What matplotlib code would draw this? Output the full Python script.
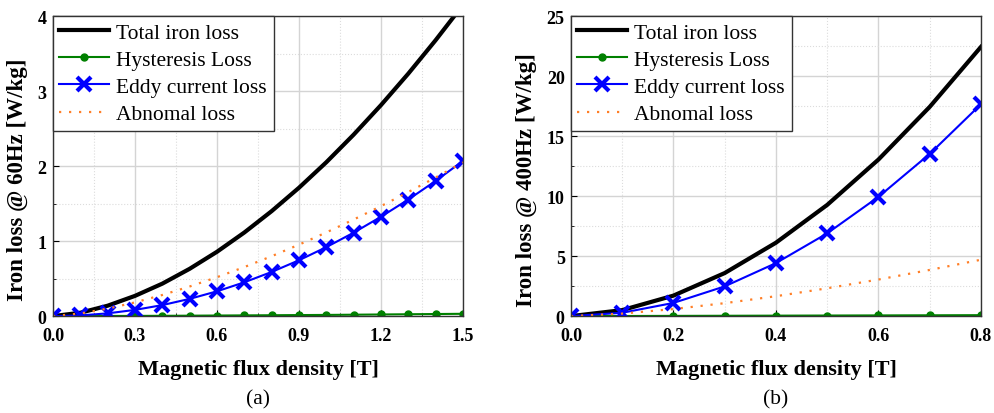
import numpy as np
import matplotlib
matplotlib.use("Agg")
import matplotlib.pyplot as plt
from matplotlib.ticker import MultipleLocator, FormatStrFormatter

plt.rcParams['font.family'] = ['Liberation Serif', 'DejaVu Serif']

# 60 Hz data
b60 = [0.0, 0.1, 0.2, 0.3, 0.4, 0.5, 0.6, 0.7, 0.8, 0.9, 1.0, 1.1, 1.2, 1.3, 1.4, 1.5]
total60 = [0, 0.045, 0.139, 0.270, 0.433, 0.631, 0.858, 1.115, 1.400, 1.712, 2.052,
           2.420, 2.814, 3.234, 3.680, 4.151]
hyst60 = [0, 0.001, 0.002, 0.003, 0.004, 0.006, 0.008, 0.010, 0.012, 0.014, 0.016,
          0.019, 0.022, 0.025, 0.028, 0.031]
eddy60 = [0, 0.009, 0.037, 0.083, 0.147, 0.23, 0.331, 0.451, 0.589, 0.745, 0.92,
          1.113, 1.325, 1.555, 1.803, 2.07]
abn60 = [0, 0.035, 0.100, 0.183, 0.282, 0.395, 0.519, 0.654, 0.799, 0.953, 1.116,
         1.288, 1.467, 1.654, 1.849, 2.050]

# 400 Hz data
b400 = [0.0, 0.1, 0.2, 0.3, 0.4, 0.5, 0.6, 0.7, 0.8]
total400 = [0, 0.50, 1.71, 3.59, 6.12, 9.27, 13.05, 17.44, 22.44]
hyst400 = [0, 0.01, 0.02, 0.03, 0.04, 0.05, 0.06, 0.07, 0.08]
eddy400 = [0, 0.28, 1.10, 2.48, 4.42, 6.90, 9.94, 13.52, 17.66]
abn400 = [0, 0.21, 0.59, 1.08, 1.66, 2.32, 3.05, 3.85, 4.70]

fig = plt.figure(figsize=(9.94, 4.14), dpi=100)
ax1 = fig.add_axes([0.0533, 0.234, 0.4125, 0.7246])
ax2 = fig.add_axes([0.5744, 0.234, 0.4125, 0.7246])


def draw(ax, b, tot, hys, edd, abn, xmax, ymax, xmaj, xmin, ymaj, ymin, ylabel, cap, ylx):
    ax.plot(b, tot, color='black', lw=3, label='Total iron loss')
    ax.plot(b, hys, color='#008000', lw=1.5, marker='o', ms=5, label='Hysteresis Loss')
    ax.plot(b, edd, color='#0000ff', lw=1.5, marker='x', ms=10, mew=3,
            label='Eddy current loss')
    ax.plot(b, abn, color='#ff7f27', lw=1.6, ls=(0, (1, 3.5)), label='Abnomal loss')
    ax.set_xlim(0, xmax)
    ax.set_ylim(0, ymax)
    ax.xaxis.set_major_locator(MultipleLocator(xmaj))
    ax.xaxis.set_minor_locator(MultipleLocator(xmin))
    ax.yaxis.set_major_locator(MultipleLocator(ymaj))
    ax.yaxis.set_minor_locator(MultipleLocator(ymin))
    ax.xaxis.set_major_formatter(FormatStrFormatter('%.1f'))
    ax.yaxis.set_major_formatter(FormatStrFormatter('%d'))
    ax.grid(which='major', color='#d4d4d4', lw=1, ls='-')
    ax.grid(which='minor', color='#dcdcdc', lw=0.8, ls=':')
    ax.set_axisbelow(True)
    ax.tick_params(which='both', direction='in', top=False, right=False)
    ax.tick_params(which='major', length=4, labelsize=13)
    ax.tick_params(axis='x', which='major', pad=7.5)
    ax.tick_params(axis='y', which='major', pad=4.5)
    ax.tick_params(which='minor', length=2.5)
    for lab in ax.get_xticklabels() + ax.get_yticklabels():
        lab.set_fontweight('bold')
    for sp in ax.spines.values():
        sp.set_color('#333333')
        sp.set_linewidth(1)
    ax.set_xlabel('Magnetic flux density [T]', fontsize=16, fontweight='bold', labelpad=11)
    ax.set_ylabel(ylabel, fontsize=16.5, fontweight='bold')
    ax.yaxis.set_label_coords(ylx, 0.457)
    leg = ax.legend(loc='upper left', fontsize=15.5, borderaxespad=0, handlelength=2.3,
                    handletextpad=0.35, borderpad=0.3, labelspacing=0.33, fancybox=False,
                    framealpha=1)
    leg.get_frame().set_edgecolor('#333333')
    leg.get_frame().set_linewidth(1)
    pos = ax.get_position()
    fig.text((pos.x0 + pos.x1) / 2, 0.035, cap, ha='center', va='center', fontsize=15.5)


draw(ax1, b60, total60, hyst60, eddy60, abn60, 1.5, 4, 0.3, 0.15, 1, 0.5,
     'Iron loss @ 60Hz [W/kg]', '(a)', -0.062)
draw(ax2, b400, total400, hyst400, eddy400, abn400, 0.8, 25, 0.2, 0.1, 5, 2.5,
     'Iron loss @ 400Hz [W/kg]', '(b)', -0.083)

fig.savefig('out.png', dpi=100)
